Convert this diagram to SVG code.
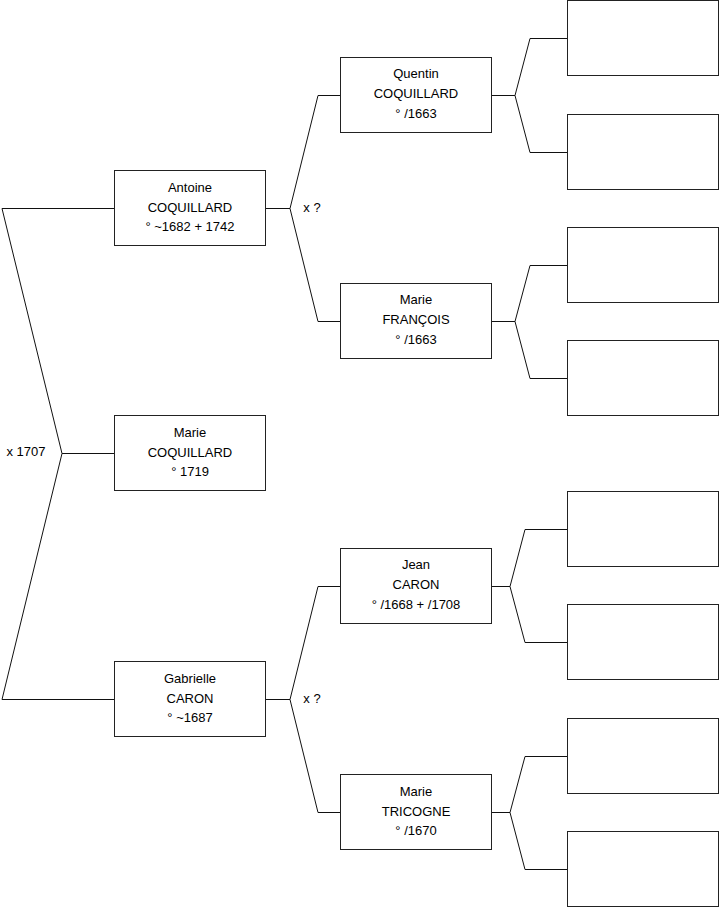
<svg xmlns="http://www.w3.org/2000/svg" width="719" height="908" viewBox="0 0 719 908">
<style>
.box{fill:#fff;stroke:#222;stroke-width:1}
.ln{fill:none;stroke:#111;stroke-width:1}
text{font-family:"Liberation Sans",Arial,sans-serif;font-size:13px;fill:#000;text-anchor:middle}
</style>
<rect width="719" height="908" fill="#fff"/>
<g id="connectors">
<path class="ln" d="M2 208.5H114.5M2 208.5L62 453.5L2 699.5M62 453.5H114.5M2 699.5H114.5"/>
<path class="ln" d="M265.5 208.5H290M318 95.5L290 208.5L318 321.5M318 95.5H340.5M318 321.5H340.5"/>
<path class="ln" d="M265.5 699.5H290M318 586.5L290 699.5L318 812.5M318 586.5H340.5M318 812.5H340.5"/>
<path class="ln" d="M491.5 95.5H515M530 38.5L515 95.5L530 152.5M530 38.5H567.5M530 152.5H567.5"/>
<path class="ln" d="M491.5 321.5H515M530 265.5L515 321.5L530 378.5M530 265.5H567.5M530 378.5H567.5"/>
<path class="ln" d="M491.5 586.5H510M525 529.5L510 586.5L525 642.5M525 529.5H567.5M525 642.5H567.5"/>
<path class="ln" d="M491.5 812.5H510M525 756.5L510 812.5L525 869.5M525 756.5H567.5M525 869.5H567.5"/>
<text x="26" y="456">x 1707</text>
<text x="312" y="212">x ?</text>
<text x="312" y="703">x ?</text>
</g>
<g id="antoine"><rect class="box" x="114.5" y="170.5" width="151" height="75"/><text x="190" y="192">Antoine</text><text x="190" y="212">COQUILLARD</text><text x="190" y="231">° ~1682 + 1742</text></g>
<g id="marie-coquillard"><rect class="box" x="114.5" y="415.5" width="151" height="75"/><text x="190" y="437">Marie</text><text x="190" y="457">COQUILLARD</text><text x="190" y="476">° 1719</text></g>
<g id="gabrielle"><rect class="box" x="114.5" y="661.5" width="151" height="75"/><text x="190" y="683">Gabrielle</text><text x="190" y="703">CARON</text><text x="190" y="722">° ~1687</text></g>
<g id="quentin"><rect class="box" x="340.5" y="57.5" width="151" height="75"/><text x="416" y="78">Quentin</text><text x="416" y="98">COQUILLARD</text><text x="416" y="118">° /1663</text></g>
<g id="marie-francois"><rect class="box" x="340.5" y="283.5" width="151" height="75"/><text x="416" y="304">Marie</text><text x="416" y="324">FRANÇOIS</text><text x="416" y="344">° /1663</text></g>
<g id="jean"><rect class="box" x="340.5" y="548.5" width="151" height="75"/><text x="416" y="569">Jean</text><text x="416" y="589">CARON</text><text x="416" y="609">° /1668 + /1708</text></g>
<g id="marie-tricogne"><rect class="box" x="340.5" y="774.5" width="151" height="75"/><text x="416" y="796">Marie</text><text x="416" y="816">TRICOGNE</text><text x="416" y="835">° /1670</text></g>
<g id="p1"><rect class="box" x="567.5" y="0.5" width="151" height="75"/></g>
<g id="p2"><rect class="box" x="567.5" y="114.5" width="151" height="75"/></g>
<g id="p3"><rect class="box" x="567.5" y="227.5" width="151" height="75"/></g>
<g id="p4"><rect class="box" x="567.5" y="340.5" width="151" height="75"/></g>
<g id="p5"><rect class="box" x="567.5" y="491.5" width="151" height="75"/></g>
<g id="p6"><rect class="box" x="567.5" y="604.5" width="151" height="75"/></g>
<g id="p7"><rect class="box" x="567.5" y="718.5" width="151" height="75"/></g>
<g id="p8"><rect class="box" x="567.5" y="831.5" width="151" height="75"/></g>
</svg>
